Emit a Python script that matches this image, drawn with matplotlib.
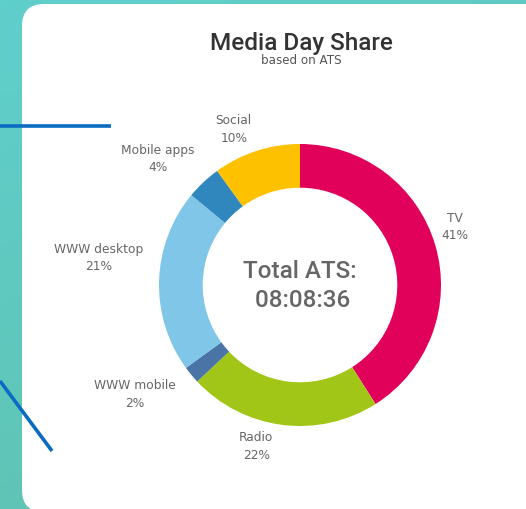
import numpy as np
import matplotlib
matplotlib.use('Agg')
import matplotlib.pyplot as plt
from matplotlib.patches import FancyBboxPatch

# data
categories = ['TV', 'Radio', 'WWW mobile', 'WWW desktop', 'Mobile apps', 'Social']
shares = [41, 22, 2, 21, 4, 10]
colors = ['#e1005a', '#a2c617', '#4a74a6', '#7fc6e9', '#2f87be', '#fec100']
total_ats = '08:08:36'

# label anchor points in pie units (layout only)
label_xy = [(1.10, 0.42), (-0.31, -1.14), (-1.17, -0.77),
            (-1.43, 0.20), (-1.01, 0.90), (-0.47, 1.11)]

W, H = 526, 510
fig = plt.figure(figsize=(W / 100, H / 100), dpi=100)

# background + card, in pixel coordinates
bg = fig.add_axes([0, 0, 1, 1])
bg.set_xlim(0, W)
bg.set_ylim(H, 0)
bg.axis('off')
gy, gx = np.mgrid[0:1:60j, 0:1:60j]
grad = gx * 0.3 + gy * 0.7
cmap = matplotlib.colors.LinearSegmentedColormap.from_list('bg', ['#5fcfcc', '#5fc0ad'])
bg.imshow(grad, cmap=cmap, extent=[0, W, H, 0], aspect='auto', zorder=0)
card = FancyBboxPatch((22, 5), 530, 508, boxstyle='round,pad=0,rounding_size=22',
                      fc='white', ec='none', zorder=1)
bg.add_patch(card)
bg.plot([0, 111], [127, 127], color='#0a6cc0', lw=2.6, zorder=2, solid_capstyle='butt')
bg.plot([0, 52], [382, 452], color='#0a6cc0', lw=2.6, zorder=2, solid_capstyle='butt')

bg.text(301, 50, 'Media Day Share', ha='center', va='baseline', fontsize=17.5,
        family='Roboto', weight='medium', color='#333333', zorder=3)
bg.text(301, 64, 'based on ATS', ha='center', va='baseline', fontsize=8.6,
        family='DejaVu Sans', color='#555555', zorder=3)

# donut
cx, cy, r = 300, 286, 141
ax = fig.add_axes([(cx - r) / W, (H - cy - r) / H, 2 * r / W, 2 * r / H])
ax.pie(shares, colors=colors, startangle=90, counterclock=False, radius=1,
       wedgeprops=dict(width=0.31, edgecolor='none'))
ax.set_xlim(-1, 1)
ax.set_ylim(-1, 1)
ax.axis('off')

for name, val, (lx, ly) in zip(categories, shares, label_xy):
    ax.text(lx, ly, f'{name}\n{val}%', ha='center', va='center', fontsize=8.8,
            family='DejaVu Sans', color='#666666', linespacing=1.45)

ax.text(0.0, 0.0, f'Total ATS:\n {total_ats}', ha='center', va='center',
        fontsize=17.5, family='Roboto', weight='medium', color='#666666',
        linespacing=1.35)

fig.savefig('out.png', dpi=100)
